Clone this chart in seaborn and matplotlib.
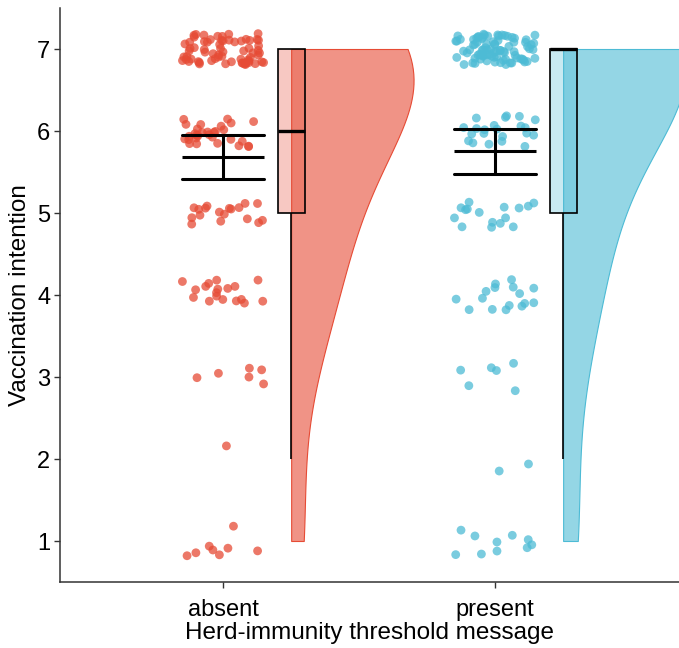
import numpy as np
import pandas as pd
import seaborn as sns
import matplotlib.pyplot as plt
from matplotlib.colors import to_rgba

levels = [1, 2, 3, 4, 5, 6, 7]
absent_counts = [8, 1, 6, 18, 18, 30, 68]
present_counts = [10, 2, 6, 16, 16, 22, 85]
groups = ['absent', 'present']
colors = ['#E64B35', '#4DBBD5']

# === long-format data ===
parts = []
for g, counts in zip(groups, [absent_counts, present_counts]):
    parts.append(pd.DataFrame({'group': g, 'value': np.repeat(levels, counts)}))
df = pd.concat(parts, ignore_index=True)
df['pos'] = df['group'].map({g: i + 1 for i, g in enumerate(groups)})
df['side_pos'] = df['pos'] + 0.25  # box + half violin nudged right


def hash01(i, k):
    # deterministic scatter in [0, 1) used only for the jitter offsets
    return np.mod(np.sin(i * k) * 43758.5453, 1.0)


idx = np.arange(len(df))
df['x_jit'] = df['pos'] + (hash01(idx + 1, 12.9898) - 0.5) * 0.30
df['y_jit'] = df['value'] + (hash01(idx + 1, 78.233) - 0.5) * 0.38

sns.set_theme(style='ticks')
plt.rcParams['font.family'] = ['Liberation Sans', 'DejaVu Sans']

fig = plt.figure(figsize=(6.79, 6.48), dpi=100)
ax = fig.add_axes([60 / 679, 66 / 648, 619 / 679, 574 / 648])

# === half violins ===
sns.violinplot(data=df, x='side_pos', y='value', hue='group', palette=colors,
               native_scale=True, dodge=False, cut=0, inner=None, bw_adjust=1.6,
               width=0.9, density_norm='area', linewidth=0.8, saturation=1,
               legend=False, ax=ax)
for coll in list(ax.collections):
    verts = [p.vertices.copy() for p in coll.get_paths()]
    allx = np.concatenate([v[:, 0] for v in verts])
    center = (allx.min() + allx.max()) / 2
    col = colors[int(round(center - 0.25)) - 1]
    new_verts = []
    for v in verts:
        v[:, 0] = np.maximum(v[:, 0], center)
        new_verts.append(v)
    coll.set_verts(new_verts)
    coll.set_facecolor(to_rgba(col, 0.6))
    coll.set_edgecolor(col)
    coll.set_zorder(0.8)

# === boxplots ===
n_patches = len(ax.patches)
n_lines = len(ax.lines)
sns.boxplot(data=df, x='side_pos', y='value', hue='group', palette=colors,
            native_scale=True, dodge=False, width=0.1, whis=1.5, showfliers=False,
            linecolor='black', linewidth=1.2, saturation=1, legend=False,
            medianprops={'linewidth': 2.4}, capprops={'linewidth': 0}, ax=ax)
for patch in ax.patches[n_patches:]:
    fc = patch.get_facecolor()
    patch.set_facecolor((fc[0], fc[1], fc[2], 0.3))
    patch.set_zorder(2)
for ln in ax.lines[n_lines:]:
    ln.set_zorder(2.1)

# === raw points ===
sns.scatterplot(data=df, x='x_jit', y='y_jit', hue='group', palette=colors, s=40,
                alpha=0.75, linewidth=0, legend=False, ax=ax, zorder=3)

# === mean + 95% CI ===
n_lines = len(ax.lines)
sns.pointplot(data=df, x='pos', y='value', native_scale=True, errorbar=('se', 1.96),
              capsize=0.3, color='black', linestyle='none', marker='_',
              markersize=59, markeredgewidth=2.2, err_kws={'linewidth': 2.2}, ax=ax)
for ln in ax.lines[n_lines:]:
    ln.set_zorder(4)

ax.set_xlim(0.4, 2.676)
ax.set_ylim(0.5, 7.5)
ax.set_xticks([1, 2], groups)
ax.set_yticks(levels)
ax.set_xlabel('Herd-immunity threshold message', fontsize=17.5, labelpad=1, color='black')
ax.set_ylabel('Vaccination intention', fontsize=17.5, labelpad=4, color='black')
sns.despine(ax=ax)
ax.tick_params(labelsize=17, length=4, width=1, color='#333333', labelcolor='black')
ax.tick_params(axis='x', pad=8)
ax.tick_params(axis='y', pad=3)
for s in ['left', 'bottom']:
    ax.spines[s].set_color('#333333')
    ax.spines[s].set_linewidth(1.1)

fig.savefig('out.png', dpi=100)
